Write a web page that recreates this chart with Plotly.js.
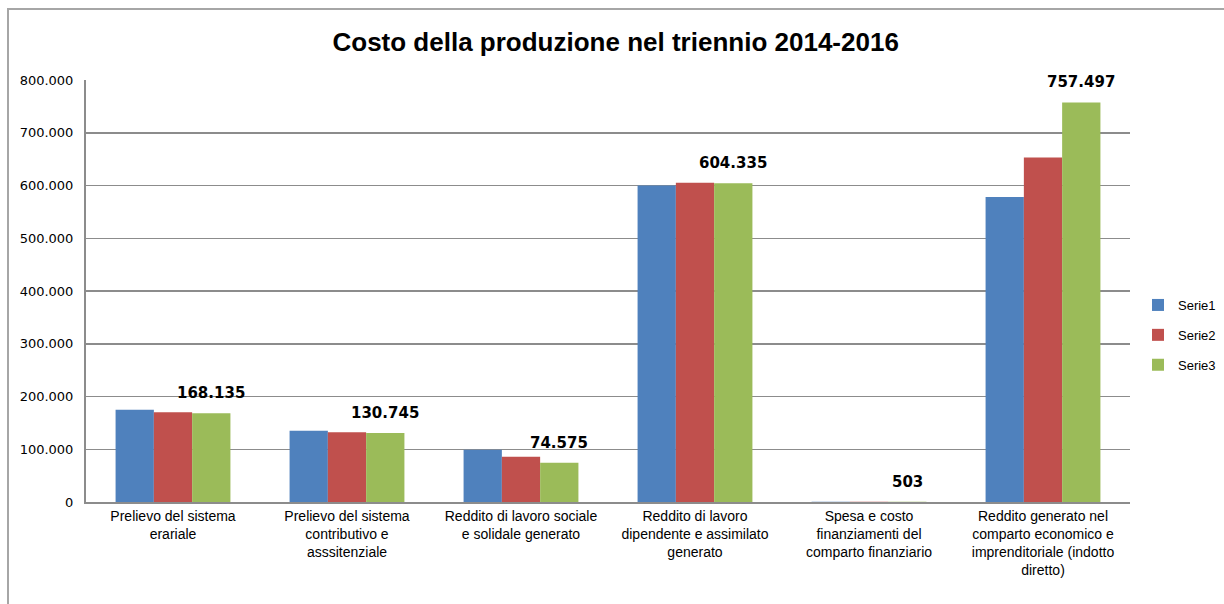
<!DOCTYPE html>
<html>
<head>
<meta charset="utf-8">
<script src="https://cdn.plot.ly/plotly-3.0.1.min.js"></script>
<style>
  html, body { margin: 0; padding: 0; background: #fff; }
  #wrap { position: relative; width: 1224px; height: 604px; }
  #frame { position: absolute; left: 7px; top: 8px; right: 0; bottom: 0; border-left: 2px solid #a6a6a6; border-top: 2px solid #a6a6a6; pointer-events: none; }
  #chart { width: 1224px; height: 604px; }
</style>
</head>
<body>
<div id="wrap">
  <div id="chart"></div>
  <div id="frame"></div>
</div>
<script>
const categories = [
  "Prelievo del sistema<br>erariale",
  "Prelievo del sistema<br>contributivo e<br>asssitenziale",
  "Reddito di lavoro sociale<br>e solidale generato",
  "Reddito di lavoro<br>dipendente e assimilato<br>generato",
  "Spesa e costo<br>finanziamenti del<br>comparto finanziario",
  "Reddito generato nel<br>comparto economico e<br>imprenditoriale (indotto<br>diretto)"
];
const serie1 = [175000, 135000, 99000, 600000, 500, 578000];
const serie2 = [170000, 132000, 86000, 605000, 500, 653000];
const serie3 = [168135, 130745, 74575, 604335, 503, 757497];
const seriesNames = ["Serie1", "Serie2", "Serie3"];
const colors = ["#4F81BD", "#C0504D", "#9BBB59"];

const traces = [serie1, serie2, serie3].map((vals, i) => ({
  type: "bar",
  name: seriesNames[i],
  legendgroup: "g" + i,
  x: categories,
  y: vals,
  marker: { color: colors[i], line: { width: 0 } },
  hoverinfo: "y"
}));

const fmt = v => Math.round(v).toString().replace(/\B(?=(\d{3})+(?!\d))/g, ".");
const annotations = categories.map((c, i) => ({
  x: c,
  y: serie3[i],
  xref: "x",
  yref: "y",
  text: "<b>" + fmt(serie3[i]) + "</b>",
  showarrow: false,
  xanchor: "center",
  yanchor: "bottom",
  xshift: 38,
  yshift: 9,
  font: { family: "DejaVu Sans", size: 15, color: "#000" }
}));

const layout = {
  width: 1224,
  height: 604,
  separators: ",.",
  paper_bgcolor: "#fff",
  plot_bgcolor: "#fff",
  margin: { l: 86, r: 94, t: 80, b: 102 },
  barmode: "group",
  bargap: 0.34,
  bargroupgap: 0,
  title: {
    text: "<b>Costo della produzione nel triennio 2014-2016</b>",
    font: { family: "Liberation Sans Narrow, Liberation Sans, sans-serif", size: 26, color: "#000" },
    x: 0.503, xanchor: "center",
    y: 0.93, yanchor: "middle"
  },
  xaxis: {
    type: "category",
    showline: true, linecolor: "#8c8c8c", linewidth: 2,
    showgrid: false,
    ticks: "",
    tickangle: 0,
    tickfont: { family: "Liberation Sans Narrow, Liberation Sans, sans-serif", size: 14, color: "#000" },
    automargin: false
  },
  yaxis: {
    range: [0, 800000],
    dtick: 100000,
    tickformat: ",d",
    showline: true, linecolor: "#8c8c8c", linewidth: 2,
    showgrid: true, gridcolor: "#8c8c8c", gridwidth: 1.5,
    zeroline: false,
    ticks: "",
    ticklabelstandoff: 8,
    tickfont: { family: "DejaVu Sans", size: 13, color: "#000" },
    automargin: false
  },
  legend: {
    xref: "container", yref: "container",
    x: 1138 / 1224, xanchor: "left",
    y: 1 - 335 / 604, yanchor: "middle",
    font: { family: "Liberation Sans, sans-serif", size: 13, color: "#000" },
    itemwidth: 30,
    tracegroupgap: 10,
    bgcolor: "rgba(0,0,0,0)"
  },
  showlegend: true,
  annotations: annotations
};

Plotly.newPlot("chart", traces, layout, { displayModeBar: false, staticPlot: true });
</script>
</body>
</html>
